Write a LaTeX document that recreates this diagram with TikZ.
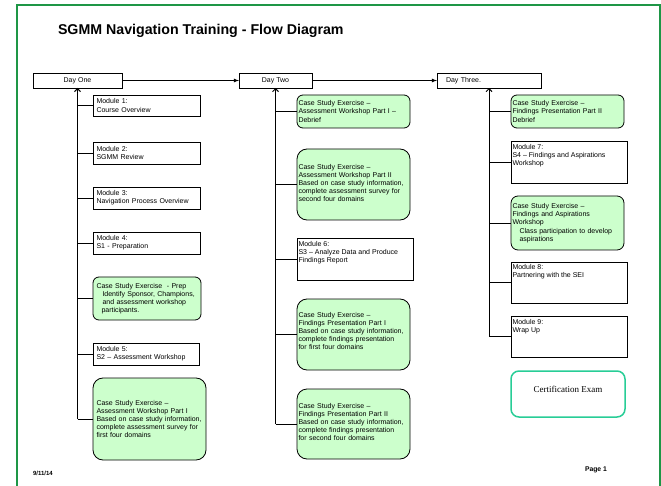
\documentclass[tikz,border=0pt]{standalone}
\usepackage{fontspec}
\setmainfont{Liberation Sans}
\newfontfamily\examfont{Liberation Serif}
\usetikzlibrary{calc,arrows.meta}

\definecolor{exgreen}{RGB}{204,255,204}
\definecolor{framegreen}{RGB}{30,150,70}
\definecolor{examline}{RGB}{40,205,150}

% text block that sits at the top of a box
\newcommand{\toptext}[3]{\parbox[c][#1][t]{#2}{\raggedright #3}}

\begin{document}
\begin{tikzpicture}[x=1pt,y=-1pt,every node/.style={outer sep=0pt},line width=0.8pt,>={Straight Barb[length=3pt,width=6pt,line width=1pt]}]
\tikzstyle{day}=[draw,fill=white,minimum height=15pt,inner sep=0pt,font=\fontsize{7}{8.3}\selectfont]
\tikzstyle{module}=[draw,fill=white,anchor=north west,align=left,inner xsep=3.5pt,inner ysep=1pt,font=\fontsize{7}{8.2}\selectfont]
\tikzstyle{exercise}=[module,fill=exgreen,rounded corners=6pt]

\useasboundingbox (0,0) rectangle (661,486);
\draw [framegreen, line width=1.5pt] (17,486) -- (17,5) -- (660,5) -- (660,486);

\node (title) [anchor=west,inner sep=0pt,font=\fontsize{14.2}{16}\selectfont\bfseries] at (58,31) {SGMM Navigation Training - Flow Diagram};

%% the three days
\node (dayone) [day, minimum width=89pt] at (77.5,80.5) {Day One};
\node (daytwo) [day, minimum width=73pt] at (275.5,80.5) {Day Two};
\node (daythree) [day, text width=86pt, align=left, inner xsep=9pt] at (489,80.5) {Day Three.};

\draw [-latex] (dayone.east) -- (daytwo.west);
\draw [-latex] (daytwo.east) -- (daythree.west);

%% day one
\node (m1) [module, text width=100pt, minimum height=21pt] at (93,95) {Module 1:\\Course Overview};
\node (m2) [module, text width=100pt, minimum height=22pt] at (93,142) {Module 2:\\SGMM Review};
\node (m3) [module, text width=100pt, minimum height=22pt] at (93,187) {Module 3:\\Navigation Process Overview};
\node (m4) [module, text width=100pt, minimum height=22pt] at (93,232) {Module 4:\\S1 - Preparation};
\node (csprep) [exercise, text width=101pt, minimum height=43pt] at (93,277) {Case Study Exercise \ - Prep\\\hspace*{6pt}Identify Sponsor, Champions,\\\hspace*{6pt}and assessment workshop\\\hspace*{5pt}participants.};
\node (m5) [module, text width=99pt, minimum height=22pt] at (93,343) {Module 5:\\S2 -- Assessment Workshop};
\node (csaw1) [exercise, rounded corners=10pt, text width=106pt, minimum height=82pt] at (93,378) {Case Study Exercise --\\Assessment Workshop Part I\\Based on case study information,\\complete assessment survey for\\first four domains};

\draw [->] (dayone.south |- csaw1.west) -- (dayone.south);
\draw (dayone.south |- m1.west) -- (m1.west);
\draw (dayone.south |- m2.west) -- (m2.west);
\draw (dayone.south |- m3.west) -- (m3.west);
\draw (dayone.south |- m4.west) -- (m4.west);
\draw (dayone.south |- csprep.west) -- (csprep.west);
\draw (dayone.south |- m5.west) -- (m5.west);
\draw (dayone.south |- csaw1.west) -- (csaw1.west);

%% day two
\node (csdeb1) [exercise, inner xsep=1.5pt, text width=110pt, minimum height=33pt] at (297,95) {Case Study Exercise --\\Assessment Workshop Part I --\\Debrief};
\node (csaw2) [exercise, inner xsep=1.5pt, rounded corners=10pt, text width=110pt, minimum height=71pt, text depth=36pt] at (297,149) {Case Study Exercise --\\Assessment Workshop Part II\\Based on case study information,\\complete assessment survey for\\second four domains};
\node (m6) [module, inner xsep=1.5pt, inner ysep=3pt] at (297,238) {\toptext{36pt}{113pt}{Module 6:\\S3 -- Analyze Data and Produce\\Findings Report}};
\node (csfp1) [exercise, inner xsep=1.5pt, rounded corners=10pt, text width=110pt, minimum height=71pt, text depth=40pt] at (297,299) {Case Study Exercise --\\Findings Presentation Part I\\Based on case study information,\\complete findings presentation\\for first four domains};
\node (csfp2) [exercise, inner xsep=1.5pt, rounded corners=10pt, text width=110pt, minimum height=70pt, text depth=37pt] at (297,389) {Case Study Exercise --\\Findings Presentation Part II\\Based on case study information,\\complete findings presentation\\for second four domains};

\draw [->] (daytwo.south |- csfp2.west) -- (daytwo.south);
\draw (daytwo.south |- csdeb1.west) -- (csdeb1.west);
\draw (daytwo.south |- csaw2.west) -- (csaw2.west);
\draw (daytwo.south |- m6.west) -- (m6.west);
\draw (daytwo.south |- csfp1.west) -- (csfp1.west);
\draw (daytwo.south |- csfp2.west) -- (csfp2.west);

%% day three
\node (csdeb2) [exercise, inner xsep=1.5pt, text width=110pt, minimum height=33pt] at (511,95) {Case Study Exercise --\\Findings Presentation Part II\\Debrief};
\node (m7) [module, inner xsep=1.5pt, inner ysep=3pt] at (511,141) {\toptext{36pt}{113pt}{Module 7:\\S4 -- Findings and Aspirations\\Workshop}};
\node (csfa) [exercise, inner xsep=1.5pt, rounded corners=7pt, text width=110pt, minimum height=54pt] at (511,196) {Case Study Exercise --\\Findings and Aspirations\\Workshop\\\hspace*{7pt}Class participation to develop\\\hspace*{7pt}aspirations};
\node (m8) [module, inner xsep=1.5pt, inner ysep=2pt] at (511,262) {\toptext{37pt}{113pt}{Module 8:\\Partnering with the SEI}};
\node (m9) [module, inner xsep=1.5pt, inner ysep=3pt] at (511,316) {\toptext{35pt}{113pt}{Module 9:\\Wrap Up}};

\draw [->] (daythree.south |- m9.west) -- (daythree.south);
\draw (daythree.south |- csdeb2.west) -- (csdeb2.west);
\draw (daythree.south |- m7.west) -- (m7.west);
\draw (daythree.south |- csfa.west) -- (csfa.west);
\draw (daythree.south |- m8.west) -- (m8.west);
\draw (daythree.south |- m9.west) -- (m9.west);

\node (exam) [draw=examline, line width=1.5pt, rounded corners=8pt, anchor=north west, minimum width=114pt, minimum height=46pt, text height=8pt, text depth=12pt, font=\examfont\fontsize{9}{11}\selectfont] at (511,371) {Certification Exam};

%% footer
\node (date) [anchor=west,inner sep=0pt,font=\fontsize{6}{7}\selectfont\bfseries] at (33,473) {9/11/14};
\node (page) [anchor=west,inner sep=0pt,font=\fontsize{6.8}{8}\selectfont\bfseries] at (585,470) {Page 1};
\end{tikzpicture}
\end{document}
